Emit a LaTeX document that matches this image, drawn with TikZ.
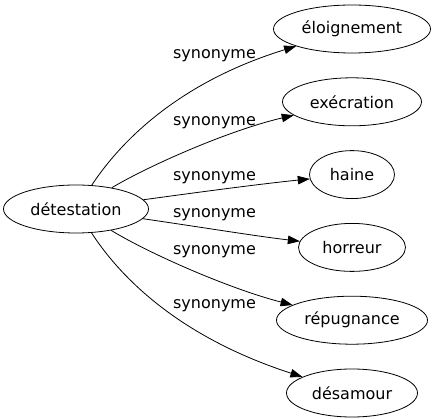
\documentclass[tikz,border=0pt]{standalone}
\usepackage{fontspec}
\setmainfont{DejaVu Sans}
\usepackage{tikz}
\usetikzlibrary{positioning}
\usetikzlibrary{arrows.meta,shapes.geometric}

\begin{document}
\begin{tikzpicture}[x=1pt,y=-1pt,font=\fontsize{16}{19}\selectfont,
    main node/.style={ellipse,draw,line width=0.8pt,inner sep=0pt,minimum height=48pt},
    syn label/.style={inner sep=0pt},
    >={Triangle[length=12pt,width=8.5pt]}]
    \useasboundingbox (0,0) rectangle (437,419);

		\node[main node][minimum width=145pt](0) at (76,209){détestation};
		\node[main node][minimum width=157pt](1) at (352,29){éloignement};
		\node[main node][minimum width=139pt](2)[below = 24pt of 1]{exécration};
		\node[main node][minimum width=85pt](3)[below = 24pt of 2]{haine};
		\node[main node][minimum width=107pt](4)[below = 24pt of 3]{horreur};
		\node[main node][minimum width=151pt](5)[below = 24pt of 4]{répugnance};
		\node[main node][minimum width=131pt](6)[below = 24pt of 5]{désamour};

		\node[syn label](s1) at (214.5,55.5){synonyme};
		\node[syn label](s2) at (214.5,123){synonyme};
		\node[syn label](s3) at (214.5,177.5){synonyme};
		\node[syn label](s4) at (214.5,215){synonyme};
		\node[syn label](s5) at (214.5,252){synonyme};
		\node[syn label](s6) at (214.5,306){synonyme};

		\draw[->,line width=0.8pt] (0) .. controls (115,150) and (170,85) .. (1);
		\draw[->,line width=0.8pt] (0) .. controls (150,165) and (230,130) .. (2);
		\draw[->,line width=0.8pt] (0) .. controls (200,192) and (260,184) .. (3);
		\draw[->,line width=0.8pt] (0) .. controls (200,227) and (255,236) .. (4);
		\draw[->,line width=0.8pt] (0) .. controls (150,254) and (230,289) .. (5);
		\draw[->,line width=0.8pt] (0) .. controls (115,269) and (170,334) .. (6);

	\end{tikzpicture}
\end{document}
